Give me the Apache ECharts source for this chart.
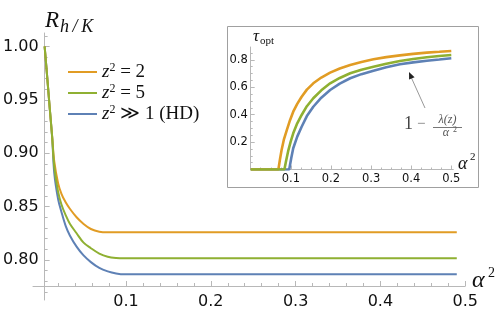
<!DOCTYPE html>
<html><head><meta charset="utf-8">
<script src="https://cdn.jsdelivr.net/npm/echarts@6/dist/echarts.min.js"></script>
<style>html,body{margin:0;padding:0;background:#fff}#c{width:498px;height:317px}</style>
</head><body><div id="c"></div>
<script>
// ---- main chart data: R_{h/K} vs alpha^2 ----
const alpha2 = [0, 0.003, 0.006, 0.009, 0.0115, 0.016, 0.020, 0.025, 0.030, 0.038, 0.046, 0.055, 0.065, 0.075, 0.085, 0.095, 0.2, 0.3, 0.4, 0.49];
const rZ2 =   [1.000, 0.972, 0.943, 0.915, 0.892, 0.872, 0.862, 0.854, 0.848, 0.840, 0.834, 0.829, 0.8265, 0.826, 0.826, 0.826, 0.826, 0.826, 0.826, 0.826];
const rZ5 =   [1.000, 0.972, 0.943, 0.915, 0.887, 0.864, 0.852, 0.842, 0.834, 0.825, 0.8165, 0.811, 0.806, 0.803, 0.8018, 0.8015, 0.8015, 0.8015, 0.8015, 0.8015];
const rHD =   [1.000, 0.972, 0.943, 0.914, 0.881, 0.857, 0.845, 0.832, 0.823, 0.8125, 0.8045, 0.798, 0.7925, 0.7893, 0.7874, 0.7866, 0.7866, 0.7866, 0.7866, 0.7866];
const seriesNames = ['z2=2', 'z2=5', 'HD'];

// ---- inset data: tau_opt vs alpha^2 ----
const tauXZ2 = [0, 0.069, 0.073, 0.077, 0.083, 0.090, 0.098, 0.106, 0.116, 0.127, 0.140, 0.156, 0.176, 0.198, 0.222, 0.248, 0.276, 0.306, 0.338, 0.372, 0.405, 0.439, 0.470, 0.5];
const tauZ2  = [0, 0, 0.075, 0.142, 0.222, 0.288, 0.360, 0.422, 0.479, 0.531, 0.583, 0.629, 0.671, 0.707, 0.737, 0.763, 0.785, 0.804, 0.820, 0.833, 0.844, 0.853, 0.859, 0.865];
const tauXZ5 = [0, 0.084, 0.088, 0.094, 0.100, 0.106, 0.116, 0.127, 0.140, 0.156, 0.176, 0.198, 0.222, 0.248, 0.276, 0.306, 0.338, 0.372, 0.405, 0.439, 0.470, 0.5];
const tauZ5  = [0, 0, 0.060, 0.142, 0.207, 0.264, 0.337, 0.398, 0.462, 0.520, 0.578, 0.629, 0.668, 0.702, 0.728, 0.750, 0.772, 0.792, 0.806, 0.819, 0.828, 0.836];
const tauXHD = [0, 0.096, 0.101, 0.106, 0.116, 0.127, 0.140, 0.156, 0.176, 0.198, 0.222, 0.248, 0.276, 0.306, 0.338, 0.372, 0.405, 0.439, 0.470, 0.5];
const tauHD  = [0, 0, 0.082, 0.155, 0.240, 0.312, 0.390, 0.458, 0.524, 0.580, 0.627, 0.666, 0.696, 0.721, 0.746, 0.768, 0.782, 0.794, 0.803, 0.812];

// ---- ticks ----
const yTicks = [0.80, 0.85, 0.90, 0.95, 1.00];
const yMinor = [0.77, 0.78, 0.79, 0.81, 0.82, 0.83, 0.84, 0.86, 0.87, 0.88, 0.89, 0.91, 0.92, 0.93, 0.94, 0.96, 0.97, 0.98, 0.99, 1.01];
const xTicks = [0.1, 0.2, 0.3, 0.4, 0.5];
const xMinor = [0.02, 0.04, 0.06, 0.08, 0.12, 0.14, 0.16, 0.18, 0.22, 0.24, 0.26, 0.28, 0.32, 0.34, 0.36, 0.38, 0.42, 0.44, 0.46, 0.48];
const inXTicks = [0.1, 0.2, 0.3, 0.4, 0.5];
const inXMinor = [0.025, 0.05, 0.075, 0.125, 0.15, 0.175, 0.225, 0.25, 0.275, 0.325, 0.35, 0.375, 0.425, 0.45, 0.475];
const inYTicks = [0.2, 0.4, 0.6, 0.8];
const inYMinor = [0.05, 0.1, 0.15, 0.25, 0.3, 0.35, 0.45, 0.5, 0.55, 0.65, 0.7, 0.75, 0.85];

const C_OR = '#E19C24', C_GR = '#8FB032', C_BL = '#5E81B5';
const AX = '#b8b8b8', LBL = '#111';
const SERIF = '"Liberation Serif", "DejaVu Serif", serif';

const pairs = (xs, ys) => xs.map((x, i) => [x, ys[i]]);

function valAxis(extra) {
  return Object.assign({type: 'value', splitLine: {show: false}, axisLine: {show: false},
    axisTick: {show: false}, axisLabel: {show: false}}, extra);
}
function txt(x, y, text, font, fill, align) {
  return {type: 'text', x: x, y: y, style: {text: text, font: font, fill: fill || LBL,
    align: align || 'left', verticalAlign: 'middle', textAlign: align || 'left', textVerticalAlign: 'middle'}};
}
function lineSeries(name, xi, yi, data, color, width, z, smooth) {
  return {name: name, type: 'line', xAxisIndex: xi, yAxisIndex: yi, data: data,
    showSymbol: false, symbol: 'none', smooth: smooth, color: color, lineStyle: {width: width}, z: z};
}

const option = {
  animation: false,
  backgroundColor: '#fff',
  grid: [
    {left: 41.2, right: 32.8, top: 33, bottom: 17},
    {left: 33, right: 32.8, top: 285, height: 1},
    {left: 250.7, right: 44.7, top: 47, bottom: 147.5}
  ],
  xAxis: [
    valAxis({gridIndex: 0, min: 0, max: 0.5, show: false}),
    valAxis({gridIndex: 1, min: -0.00967, max: 0.5, position: 'bottom',
      axisLine: {show: true, onZero: false, lineStyle: {color: AX, width: 1}},
      axisTick: {show: true, inside: true, length: 5, customValues: xTicks, lineStyle: {color: AX}},
      axisLabel: {show: true, customValues: xTicks, fontSize: 16, margin: 8, color: LBL,
        fontFamily: 'DejaVu Sans', formatter: v => v.toFixed(1)}}),
    valAxis({gridIndex: 1, min: -0.00967, max: 0.5, position: 'bottom',
      axisTick: {show: true, inside: true, length: 3, customValues: xMinor, lineStyle: {color: AX}}}),
    valAxis({gridIndex: 2, min: 0, max: 0.505, position: 'bottom',
      axisLine: {show: true, onZero: false, lineStyle: {color: AX, width: 1}},
      axisTick: {show: true, inside: true, length: 4, customValues: inXTicks, lineStyle: {color: AX}},
      axisLabel: {show: true, customValues: inXTicks, fontSize: 11.5, margin: 4, color: LBL,
        fontFamily: 'DejaVu Sans', formatter: v => v.toFixed(1)}}),
    valAxis({gridIndex: 2, min: 0, max: 0.505, position: 'bottom',
      axisTick: {show: true, inside: true, length: 2, customValues: inXMinor, lineStyle: {color: AX}}})
  ],
  yAxis: [
    valAxis({gridIndex: 0, min: 0.7625, max: 1.0126, position: 'left',
      axisLine: {show: true, onZero: false, lineStyle: {color: AX, width: 1}},
      axisTick: {show: true, inside: true, length: 5, customValues: yTicks, lineStyle: {color: AX}},
      axisLabel: {show: true, customValues: yTicks, fontSize: 16, margin: 6, color: LBL,
        fontFamily: 'DejaVu Sans', formatter: v => v.toFixed(2)}}),
    valAxis({gridIndex: 0, min: 0.7625, max: 1.0126, position: 'left', offset: 0,
      axisTick: {show: true, inside: true, length: 3, customValues: yMinor, lineStyle: {color: AX}}}),
    valAxis({gridIndex: 1, min: 0, max: 1, show: false}),
    valAxis({gridIndex: 2, min: 0, max: 0.894, position: 'left',
      axisLine: {show: true, onZero: false, lineStyle: {color: AX, width: 1}},
      axisTick: {show: true, inside: true, length: 4, customValues: inYTicks, lineStyle: {color: AX}},
      axisLabel: {show: true, customValues: inYTicks, fontSize: 11.5, margin: 3, color: LBL,
        fontFamily: 'DejaVu Sans', formatter: v => v.toFixed(1)}}),
    valAxis({gridIndex: 2, min: 0, max: 0.894, position: 'left', offset: 0,
      axisTick: {show: true, inside: true, length: 2, customValues: inYMinor, lineStyle: {color: AX}}})
  ],
  legend: {
    data: seriesNames,
    orient: 'vertical', left: 68, top: 62, padding: 0, itemWidth: 29, itemHeight: 2, itemGap: 1.5,
    icon: 'rect',
    itemStyle: {borderWidth: 0},
    formatter: function (name) {
      if (name === 'z2=2') return '{it|z}{sup|2}{rm| = 2}';
      if (name === 'z2=5') return '{it|z}{sup|2}{rm| = 5}';
      return '{it|z}{sup|2}{rm| \u226B 1 (HD)}';
    },
    textStyle: {
      color: LBL,
      rich: {
        it: {fontFamily: SERIF, fontStyle: 'italic', fontSize: 19, lineHeight: 20, color: LBL},
        sup: {fontFamily: SERIF, fontSize: 12, lineHeight: 12, verticalAlign: 'top', color: LBL},
        rm: {fontFamily: SERIF, fontSize: 19, lineHeight: 20, color: LBL}
      }
    }
  },
  graphic: [
    {type: 'rect', z: -10, shape: {x: 227.5, y: 26.5, width: 251, height: 161},
      style: {fill: '#fff', stroke: '#a0a0a0', lineWidth: 1}},
    txt(45, 21, 'R', 'italic 23px ' + SERIF),
    txt(60, 27, 'h\u2009/\u2009K', 'italic 18px ' + SERIF),
    txt(472, 281, '\u03B1', 'italic 24px ' + SERIF),
    txt(488, 273, '2', '14px ' + SERIF),
    // inset labels
    txt(253, 37, '\u03C4', 'italic 17px ' + SERIF),
    txt(260, 41, 'opt', '11px ' + SERIF),
    txt(458, 164, '\u03B1', 'italic 18px ' + SERIF),
    txt(470, 157, '2', '11px ' + SERIF),
    // annotation 1 - lambda(z)/alpha^2
    txt(404, 124, '1', '18px ' + SERIF, '#444'),
    txt(417, 124, '\u2212', '15px ' + SERIF, '#777'),
    txt(447.5, 120, '\u03BB(z)', 'italic 12px ' + SERIF, '#555', 'center'),
    {type: 'line', shape: {x1: 433, y1: 127.5, x2: 462, y2: 127.5}, style: {stroke: '#777', lineWidth: 1}},
    txt(446, 133, '\u03B1', 'italic 12px ' + SERIF, '#555', 'center'),
    txt(453, 129.5, '2', '8px ' + SERIF, '#555'),
    {type: 'line', shape: {x1: 425, y1: 108, x2: 411.5, y2: 78}, style: {stroke: '#999', lineWidth: 1}},
    {type: 'polygon', shape: {points: [[409, 72], [414.6, 77.2], [409.1, 79.6]]}, style: {fill: '#222'}}
  ],
  series: [
    lineSeries('HD', 0, 0, pairs(alpha2, rHD), C_BL, 2, 3, 0.35),
    lineSeries('z2=2', 0, 0, pairs(alpha2, rZ2), C_OR, 2, 4, 0.35),
    lineSeries('z2=5', 0, 0, pairs(alpha2, rZ5), C_GR, 2, 5, 0.35),
    lineSeries('inHD', 3, 3, pairs(tauXHD, tauHD), C_BL, 2.6, 3, false),
    lineSeries('inZ2', 3, 3, pairs(tauXZ2, tauZ2), C_OR, 2.6, 4, false),
    lineSeries('inZ5', 3, 3, pairs(tauXZ5, tauZ5), C_GR, 2.6, 5, false)
  ]
};
const chart = echarts.init(document.getElementById('c'), null, {renderer: 'canvas'});
chart.setOption(option);
</script></body></html>
